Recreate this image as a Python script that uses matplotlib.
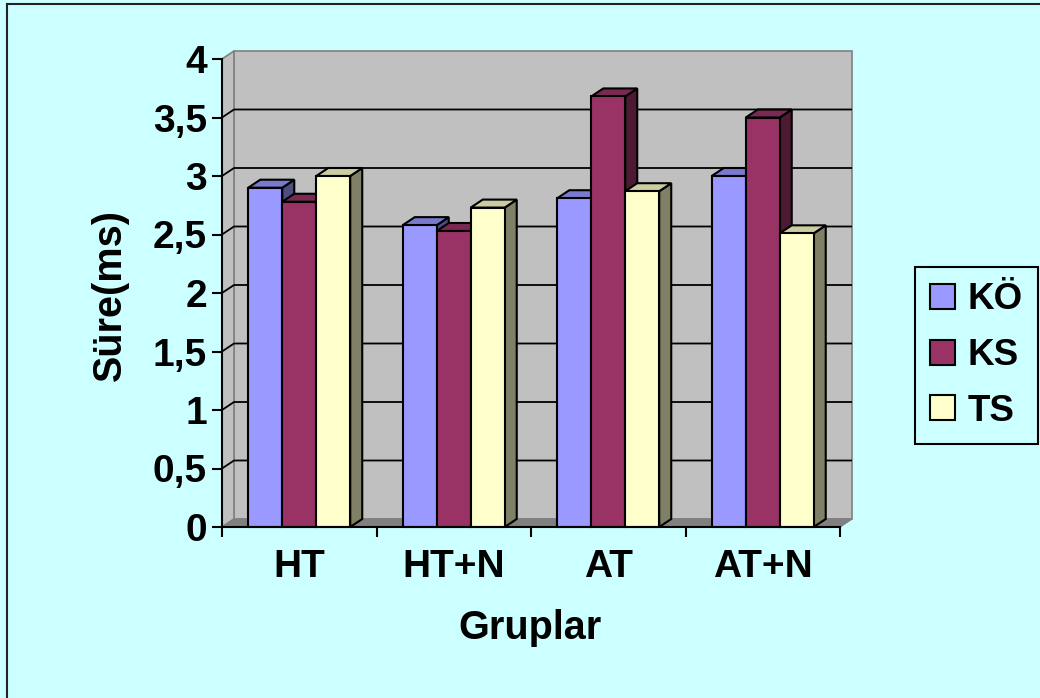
import matplotlib
matplotlib.use("Agg")
import matplotlib.pyplot as plt
from matplotlib.patches import Polygon, Patch
from matplotlib.lines import Line2D
import numpy as np

# ---- data ----
groups = ["HT", "HT+N", "AT", "AT+N"]
series_names = ["KÖ", "KS", "TS"]
ko_values = [2.90, 2.58, 2.81, 3.00]
ks_values = [2.78, 2.53, 3.68, 3.50]
ts_values = [3.00, 2.73, 2.87, 2.51]
y_ticks = [0, 0.5, 1, 1.5, 2, 2.5, 3, 3.5, 4]
y_tick_labels = ["0", "0,5", "1", "1,5", "2", "2,5", "3", "3,5", "4"]

series_values = [ko_values, ks_values, ts_values]
front_colors = ["#9999FF", "#993366", "#FFFFCC"]
top_colors = ["#7A7ACC", "#7A2952", "#CCCCA3"]
side_colors = ["#4D4D80", "#4D1A33", "#808066"]

BG = "#CCFFFF"
WALL = "#C0C0C0"
FLOOR = "#808080"
EDGE_GREY = "#808080"

plt.rcParams["font.family"] = ["Liberation Sans", "DejaVu Sans"]
plt.rcParams["font.weight"] = "bold"

fig = plt.figure(figsize=(10.4, 6.98), dpi=100)
fig.patch.set_facecolor(BG)

W, H = 1040.0, 698.0
x0_px, x1_px, y_top_px, y_bot_px = 222.0, 840.0, 59.0, 527.0
ax = fig.add_axes([x0_px / W, 1 - y_bot_px / H, (x1_px - x0_px) / W, (y_bot_px - y_top_px) / H])
ax.set_facecolor("none")

n = len(groups)
ax.set_xlim(0, n)
ax.set_ylim(0, 4)

# depth offset of the 3D box, in data units
DX = 12.0 / ((x1_px - x0_px) / n)
DY = 8.0 / ((y_bot_px - y_top_px) / 4)
ymax = 4

# back wall, side wall and floor
ax.add_patch(Polygon([(DX, DY), (n + DX, DY), (n + DX, ymax + DY), (DX, ymax + DY)],
                     closed=True, facecolor=WALL, edgecolor=EDGE_GREY, lw=1.2,
                     zorder=0.5, clip_on=False))
ax.add_patch(Polygon([(0, 0), (DX, DY), (DX, ymax + DY), (0, ymax)],
                     closed=True, facecolor=WALL, edgecolor=EDGE_GREY, lw=1.2,
                     zorder=0.55, clip_on=False))
ax.add_patch(Polygon([(0, 0), (n, 0), (n + DX, DY), (DX, DY)],
                     closed=True, facecolor=FLOOR, edgecolor=EDGE_GREY, lw=1.0,
                     zorder=0.7, clip_on=False))

# gridlines running over side wall and back wall
for v in y_ticks[1:-1]:
    ax.plot([0, DX, n + DX], [v, v + DY, v + DY], color="black", lw=1.3,
            zorder=0.6, clip_on=False, solid_capstyle="butt")

# bars with top and side faces
bar_w = 0.22
centers = np.arange(n) + 0.5
handles = []
for j, vals in enumerate(series_values):
    xs = centers + (j - 1) * bar_w
    bars = ax.bar(xs, vals, width=bar_w, color=front_colors[j], edgecolor="black",
                  linewidth=1.5, label=series_names[j], clip_on=False)
    handles.append(Patch(facecolor=front_colors[j], edgecolor="black", linewidth=1.5))
    for rect in bars:
        bx = rect.get_x()
        bw = rect.get_width()
        h = rect.get_height()
        z = 2 + j * 0.1
        rect.set_zorder(z + 0.05)
        top = Polygon([(bx, h), (bx + bw, h), (bx + bw + DX, h + DY), (bx + DX, h + DY)],
                      closed=True, facecolor=top_colors[j], edgecolor="black",
                      lw=1.5, zorder=z, clip_on=False, joinstyle="miter")
        side = Polygon([(bx + bw, 0), (bx + bw + DX, DY), (bx + bw + DX, h + DY), (bx + bw, h)],
                       closed=True, facecolor=side_colors[j], edgecolor="black",
                       lw=1.5, zorder=z, clip_on=False, joinstyle="miter")
        ax.add_patch(side)
        ax.add_patch(top)

# axes lines and ticks
for s in ["top", "right"]:
    ax.spines[s].set_visible(False)
for s in ["left", "bottom"]:
    ax.spines[s].set_color("black")
    ax.spines[s].set_linewidth(1.5)
    ax.spines[s].set_zorder(5)

ax.set_yticks(y_ticks)
ax.set_yticklabels(y_tick_labels)
ax.tick_params(axis="y", direction="out", length=7.2, width=1.5, pad=3.6,
               labelsize=28, colors="black")
ax.set_xticks(np.arange(n + 1))
ax.set_xticklabels([])
ax.tick_params(axis="x", which="major", direction="out", length=7.2, width=1.5)
ax.set_xticks(centers, minor=True)
ax.set_xticklabels(groups, minor=True)
ax.tick_params(axis="x", which="minor", length=0, pad=16, labelsize=28)
for lab in ax.get_xticklabels(minor=True) + ax.get_yticklabels():
    lab.set_fontweight("bold")

ax.set_xlabel("Gruplar", fontsize=28.5, fontweight="bold")
ax.xaxis.set_label_coords(0.499, -0.176)
ax.set_ylabel("Süre(ms)", fontsize=28.5, fontweight="bold")
ax.yaxis.set_label_coords(-0.151, 0.496)

# legend
leg = fig.legend(handles, series_names, loc="upper left",
                 bbox_to_anchor=(915 / W, 1 - 267 / H), borderaxespad=0,
                 prop={"weight": "bold", "size": 26.5},
                 handlelength=0.68, handleheight=0.68, handletextpad=0.33,
                 labelspacing=0.56, borderpad=0.42, fancybox=False,
                 frameon=True, facecolor=BG, edgecolor="black", framealpha=1)
leg.get_frame().set_linewidth(1.5)

# outer frame edges
fig.add_artist(Line2D([7 / W, 7 / W], [0, 1 - 4 / H], transform=fig.transFigure,
                      color="#222222", lw=1.5))
fig.add_artist(Line2D([7 / W, 1], [1 - 4 / H, 1 - 4 / H], transform=fig.transFigure,
                      color="#222222", lw=1.5))

fig.savefig("out.png", dpi=100, facecolor=BG)
